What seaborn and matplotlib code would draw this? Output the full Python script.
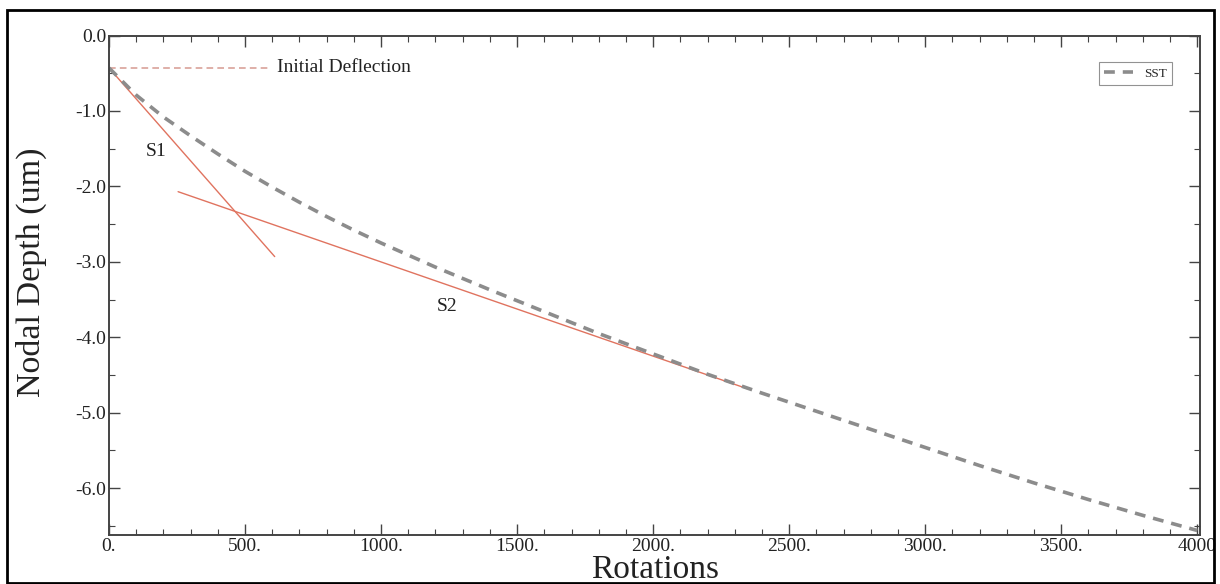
import numpy as np
import pandas as pd
import matplotlib
matplotlib.use("Agg")
import matplotlib.pyplot as plt
from matplotlib.patches import Rectangle
from matplotlib.ticker import MultipleLocator, FixedLocator
import seaborn as sns

# ---- data ----
sst_rot = [0, 100, 200, 300, 400, 500, 600, 700, 800, 900, 1000, 1200, 1400, 1600,
           1800, 2000, 2200, 2400, 2600, 2800, 3000, 3200, 3400, 3600, 3800, 4000]
sst_depth = [-0.43, -0.79, -1.08, -1.33, -1.57, -1.80, -2.01, -2.21, -2.40, -2.58,
             -2.75, -3.07, -3.37, -3.66, -3.95, -4.22, -4.49, -4.74, -4.98, -5.22,
             -5.46, -5.70, -5.93, -6.15, -6.36, -6.56]
s1_rot = [0, 609]
s1_depth = [-0.43, -2.93]
s2_rot = [254, 2345]
s2_depth = [-2.07, -4.68]
init_rot = [0, 591]
init_depth = [-0.43, -0.43]

x_ticks = [0, 500, 1000, 1500, 2000, 2500, 3000, 3500, 4000]
x_ticklabels = ["0.", "500.", "1000.", "1500.", "2000.", "2500.", "3000.", "3500.", "4000"]
y_ticks = [0, -1, -2, -3, -4, -5, -6]
y_ticklabels = ["0.0", "-1.0", "-2.0", "-3.0", "-4.0", "-5.0", "-6.0"]

sns.set_theme(style="ticks")
plt.rcParams["font.family"] = ["Liberation Serif", "DejaVu Serif"]

W, H = 1220, 584
AX_L, AX_R, AX_T, AX_B = 109, 1200, 35.5, 535
fig = plt.figure(figsize=(W / 100, H / 100), dpi=100)
fig.patch.set_facecolor("white")
ax = fig.add_axes([AX_L / W, 1 - AX_B / H, (AX_R - AX_L) / W, (AX_B - AX_T) / H])

sst_df = pd.DataFrame({"Rotations": sst_rot, "Depth": sst_depth})
s1_df = pd.DataFrame({"Rotations": s1_rot, "Depth": s1_depth})
s2_df = pd.DataFrame({"Rotations": s2_rot, "Depth": s2_depth})
init_df = pd.DataFrame({"Rotations": init_rot, "Depth": init_depth})

red = "#e0735f"
sns.lineplot(data=init_df, x="Rotations", y="Depth", ax=ax, color="#d9a29a",
             linewidth=1.2, linestyle=(0, (4, 2.5)), legend=False)
sns.lineplot(data=s1_df, x="Rotations", y="Depth", ax=ax, color=red,
             linewidth=1.0, legend=False)
sns.lineplot(data=s2_df, x="Rotations", y="Depth", ax=ax, color=red,
             linewidth=1.0, legend=False)
sns.lineplot(data=sst_df, x="Rotations", y="Depth", ax=ax, color="#8c8c8c",
             linewidth=2.6, linestyle=(0, (3, 2.2)), label="SST")

ax.text(616, -0.43, "Initial Deflection", fontsize=14, va="center", ha="left", color="#222222")
ax.text(175, -1.54, "S1", fontsize=14, va="center", ha="center", color="#222222")
ax.text(1244, -3.59, "S2", fontsize=14, va="center", ha="center", color="#222222")

ax.set_xlim(0, 4010)
ax.set_ylim(-6.62, 0)
ax.xaxis.set_major_locator(FixedLocator(x_ticks))
ax.set_xticklabels(x_ticklabels)
ax.xaxis.set_minor_locator(MultipleLocator(100))
ax.yaxis.set_major_locator(FixedLocator(y_ticks))
ax.set_yticklabels(y_ticklabels)
ax.yaxis.set_minor_locator(MultipleLocator(0.5))

ax.tick_params(which="both", direction="in", top=True, right=True,
               color="#444444", labelsize=14, labelcolor="#222222", pad=2)
ax.tick_params(which="major", length=8, width=1)
ax.tick_params(which="minor", length=4, width=0.8)
for s in ax.spines.values():
    s.set_color("#444444")
    s.set_linewidth(1.4)

ax.set_xlabel("Rotations", fontsize=24, color="#222222")
ax.set_ylabel("Nodal Depth (um)", fontsize=24.5, color="#222222")
ax.xaxis.set_label_coords((655 - AX_L) / (AX_R - AX_L), -(570 - AX_B) / (AX_B - AX_T))
ax.xaxis.label.set_va("center")
ax.yaxis.set_label_coords(-(AX_L - 31) / (AX_R - AX_L), (AX_B - 272) / (AX_B - AX_T))
ax.yaxis.label.set_va("center")

leg = ax.legend(loc="upper right",
                bbox_to_anchor=((1172 - AX_L) / (AX_R - AX_L), 1 - (62 - AX_T) / (AX_B - AX_T)),
                fontsize=9.5, frameon=True, fancybox=False, handlelength=2.2,
                borderpad=0.4, handletextpad=0.8, borderaxespad=0)
leg.get_frame().set_edgecolor("#777777")
leg.get_frame().set_linewidth(0.8)

fig.add_artist(Rectangle((7 / W, 1 - 583 / H), (1214 - 7) / W, (583 - 10) / H,
                         transform=fig.transFigure, fill=False, edgecolor="black",
                         linewidth=2))

fig.savefig("out.png", dpi=100)
